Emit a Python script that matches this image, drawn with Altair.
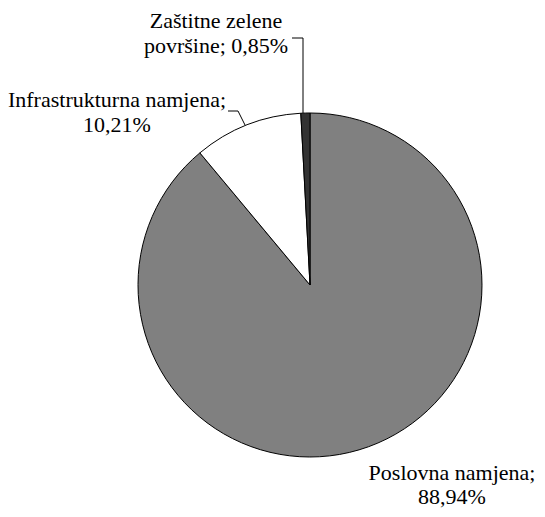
import altair as alt
import pandas as pd

# ---- data ----
categories = ["Poslovna namjena", "Infrastrukturna namjena", "Zaštitne zelene površine"]
shares = [88.94, 10.21, 0.85]
slice_colors = ["#808080", "#ffffff", "#333333"]

df = pd.DataFrame({"category": categories, "share": shares, "order": list(range(len(categories)))})

W, H = 529, 501
CX, CY, R = 302, 277, 172
FONT = "Liberation Serif"
FS = 22


def fmt(v):
    return f"{v:.2f}".replace(".", ",") + "%"


pie = alt.Chart(df).mark_arc(outerRadius=R, stroke="black", strokeWidth=1).encode(
    theta=alt.Theta("share:Q", stack=True),
    order=alt.Order("order:Q"),
    color=alt.Color("category:N", scale=alt.Scale(domain=categories, range=slice_colors), legend=None),
    x=alt.value(CX),
    y=alt.value(CY),
)

words_z = categories[2].split(" ")
label_specs = [
    # (lines, center x, first baseline y, line step)
    ([f"{categories[0]};", fmt(shares[0])], 444, 472, 24),
    ([f"{categories[1]};", fmt(shares[1])], 109, 99, 25),
    ([" ".join(words_z[:2]), f"{' '.join(words_z[2:])}; {fmt(shares[2])}"], 208, 20, 25),
]

layers = [pie]
base = alt.Chart(pd.DataFrame({"k": [0]}))
for lines, lx, ly, step in label_specs:
    for i, line in enumerate(lines):
        layers.append(
            base.mark_text(text=line, font=FONT, fontSize=FS, align="center", baseline="alphabetic", color="black")
            .encode(x=alt.value(lx), y=alt.value(ly + step * i))
        )

# leader lines
segments = [
    (284, 30, 295, 30),
    (295, 30, 295, 105),
    (220, 103, 230, 103),
    (230, 103, 237, 117),
]
for x1, y1, x2, y2 in segments:
    layers.append(
        base.mark_rule(color="black", strokeWidth=1).encode(
            x=alt.value(x1), y=alt.value(y1), x2=alt.value(x2), y2=alt.value(y2)
        )
    )

chart = alt.layer(*layers).properties(
    width=W, height=H, padding=0, autosize="none"
).configure_view(stroke=None)

chart.save("out.html", embed_options={"renderer": "svg", "actions": False})
